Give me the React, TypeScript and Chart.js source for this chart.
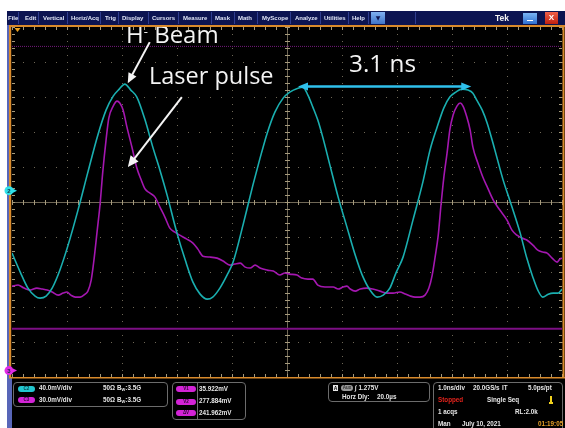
import React, { useEffect, useRef } from "react";
import { Chart, registerables } from "chart.js";

Chart.register(...registerables);

// ---- Channel 2 (H- beam, cyan) : time [ns] / amplitude [mV] ----
const ch2TimeNs = [-5.00,-4.85,-4.71,-4.58,-4.49,-4.38,-4.27,-4.13,-3.98,-3.80,-3.62,-3.44,-3.29,-3.16,-3.05,-2.95,-2.84,-2.73,-2.58,-2.44,-2.31,-2.18,-2.00,-1.85,-1.71,-1.58,-1.45,-1.35,-1.22,-1.09,-0.98,-0.80,-0.62,-0.49,-0.36,-0.22,-0.07,0.05,0.20,0.29,0.38,0.47,0.56,0.65,0.78,0.93,1.09,1.24,1.36,1.51,1.64,1.75,1.87,1.98,2.11,2.29,2.47,2.60,2.73,2.85,2.96,3.07,3.18,3.29,3.38,3.45,3.55,3.64,3.78,3.93,4.05,4.24,4.36,4.47,4.56,4.65,4.75,4.84,4.93,5.00];
const ch2mV = [-71.4,-93.1,-111.4,-120.6,-122.9,-120.6,-111.4,-90.9,-62.3,-22.3,21.1,63.4,92.0,108.0,116.0,121.7,114.9,106.9,80.6,49.7,23.4,-5.1,-48.6,-79.4,-104.6,-118.3,-124.0,-121.7,-111.4,-96.6,-81.7,-39.4,6.3,37.1,65.7,89.7,105.7,112.6,117.1,118.3,109.1,95.4,80.6,61.1,29.1,-7.4,-41.7,-73.7,-95.4,-113.7,-121.7,-119.4,-111.4,-94.3,-76.0,-33.7,9.7,46.3,72.6,94.3,106.9,112.6,116.0,114.9,111.4,103.4,92.0,77.1,46.3,12.0,-10.9,-48.6,-77.1,-98.9,-113.7,-121.7,-118.3,-117.1,-117.1,-112.6];

// ---- Channel 3 (laser pulse, magenta) : time [ns] / amplitude [mV] ----
const ch3TimeNs = [-5.00,-4.89,-4.78,-4.67,-4.55,-4.45,-4.36,-4.27,-4.16,-4.07,-4.00,-3.93,-3.85,-3.76,-3.67,-3.62,-3.56,-3.51,-3.45,-3.40,-3.35,-3.29,-3.24,-3.16,-3.09,-3.04,-2.98,-2.91,-2.82,-2.73,-2.65,-2.58,-2.49,-2.40,-2.31,-2.22,-2.13,-2.04,-1.95,-1.82,-1.71,-1.62,-1.53,-1.40,-1.27,-1.16,-1.04,-0.95,-0.85,-0.76,-0.67,-0.58,-0.49,-0.36,-0.25,-0.13,-0.04,0.05,0.18,0.27,0.38,0.47,0.56,0.69,0.84,0.93,1.02,1.09,1.15,1.24,1.33,1.45,1.56,1.69,1.82,1.93,2.05,2.15,2.24,2.33,2.42,2.51,2.58,2.64,2.69,2.75,2.80,2.85,2.91,2.96,3.02,3.09,3.15,3.20,3.27,3.33,3.38,3.47,3.56,3.65,3.75,3.87,4.00,4.09,4.18,4.27,4.36,4.47,4.56,4.65,4.73,4.82,4.91,4.96,5.00];
const ch3mV = [72.4,73.3,70.7,69.0,70.7,69.9,69.0,67.3,64.7,66.4,67.3,64.7,63.0,63.0,65.6,68.1,77.6,94.7,120.4,141.9,170.1,197.6,216.4,226.7,231.0,229.3,223.3,208.7,191.6,173.6,163.3,155.6,152.1,148.7,140.1,131.6,122.1,118.7,116.1,112.7,109.3,104.1,98.1,97.3,96.4,93.9,90.4,91.3,92.1,88.7,87.9,90.4,87.9,86.1,85.3,81.9,83.6,82.7,81.9,79.3,78.4,78.4,73.3,71.6,71.6,69.9,71.6,72.4,69.9,68.1,69.9,70.7,69.9,68.1,66.4,66.4,67.3,65.6,63.9,63.0,63.0,64.7,70.7,81.9,96.4,116.1,141.9,165.0,186.4,206.1,219.0,226.7,229.3,226.7,217.3,206.1,191.6,177.9,165.9,156.4,146.1,137.6,129.0,120.4,116.1,113.6,111.9,107.6,103.3,101.6,100.7,96.4,93.0,95.6,96.4];

// ---- Cursors (ch3 scale) ----
const cursorLevelsMV = [35.922, 277.884]; // V1, V2

// ---- Annotations ----
const periodArrowNs = [0.2, 3.35];
const periodArrowMV = 119;
const hBeamPeakIndex = 15;
const laserEdgeIndex = 29;
const triggerTimeNs = -4.9;
const timeDivisions = [-5, -4, -3, -2, -1, 0, 1, 2, 3, 4, 5];

const menuItems = ["File","Edit","Vertical","Horiz/Acq","Trig","Display","Cursors","Measure","Mask","Math","MyScope","Analyze","Utilities","Help"];
const menuLefts = [8,25,43,71,105,122,152,183,215,238,262,295,324,352];
const menuSeps = [18,38,67,100,118,148,178,211,234,257,290,320,348,368,415];

const W = 565, H = 428;

function drawArrow(ctx: CanvasRenderingContext2D, x0: number, y0: number, x1: number, y1: number, color: string, width: number, headLen: number, headW: number, both = false) {
  const ang = Math.atan2(y1 - y0, x1 - x0);
  const cos = Math.cos(ang), sin = Math.sin(ang);
  ctx.save();
  ctx.strokeStyle = color;
  ctx.fillStyle = color;
  ctx.lineWidth = width;
  ctx.lineCap = "butt";
  const sx = both ? x0 + cos * headLen * 0.8 : x0;
  const sy = both ? y0 + sin * headLen * 0.8 : y0;
  ctx.beginPath();
  ctx.moveTo(sx, sy);
  ctx.lineTo(x1 - cos * headLen * 0.8, y1 - sin * headLen * 0.8);
  ctx.stroke();
  const head = (tx: number, ty: number, c: number, s: number) => {
    ctx.beginPath();
    ctx.moveTo(tx, ty);
    ctx.lineTo(tx - c * headLen - s * headW / 2, ty - s * headLen + c * headW / 2);
    ctx.lineTo(tx - c * headLen + s * headW / 2, ty - s * headLen - c * headW / 2);
    ctx.closePath();
    ctx.fill();
  };
  head(x1, y1, cos, sin);
  if (both) head(x0, y0, -cos, -sin);
  ctx.restore();
}

const scopePlugin = {
  id: "scopeGraticule",
  beforeDraw(chart: any) {
    const ctx = chart.ctx as CanvasRenderingContext2D;
    ctx.save();
    ctx.fillStyle = "#000";
    ctx.fillRect(11, 25, W - 11, H - 25);
    ctx.fillStyle = "#5866b8";
    ctx.fillRect(7, 11, 2.5, 367);
    ctx.fillRect(7, 378, 5, 50);
    ctx.restore();
  },
  beforeDatasetsDraw(chart: any) {
    const ctx = chart.ctx as CanvasRenderingContext2D;
    const a = chart.chartArea;
    const xs = chart.scales.x;
    const ys = chart.scales.y;
    const w = a.right - a.left, h = a.bottom - a.top;
    const dx = w / 50, dy = h / 50;
    ctx.save();
    ctx.fillStyle = "#6e6756";
    timeDivisions.forEach((t) => {
      if (t === 0 || t === -5 || t === 5) return;
      const px = Math.round(xs.getPixelForValue(t));
      for (let j = 0; j <= 50; j++) ctx.fillRect(px, Math.round(a.top + j * dy), 1, 1);
    });
    for (let k = 1; k < 10; k++) {
      if (k === 5) continue;
      const py = Math.round(ys.getPixelForValue(ys.min + k * (ys.max - ys.min) / 10));
      for (let j = 0; j <= 50; j++) ctx.fillRect(Math.round(a.left + j * dx), py, 1, 1);
    }
    const cx = Math.round(xs.getPixelForValue(0));
    const cy = Math.round(ys.getPixelForValue((ys.min + ys.max) / 2));
    ctx.fillStyle = "#6f6756";
    ctx.fillRect(a.left, cy, w, 1);
    ctx.fillRect(cx, a.top, 1, h);
    ctx.fillStyle = "#a59a7c";
    for (let j = 0; j <= 50; j++) {
      const x = Math.round(a.left + j * dx);
      ctx.fillRect(x, cy - 2, 1, 5);
      ctx.fillRect(x, a.top, 1, 3);
      ctx.fillRect(x, a.bottom - 3, 1, 3);
      const y = Math.round(a.top + j * dy);
      ctx.fillRect(cx - 2, y, 5, 1);
      ctx.fillRect(a.left, y, 3, 1);
      ctx.fillRect(a.right - 3, y, 3, 1);
    }
    ctx.fillStyle = "#d98a2b";
    ctx.fillRect(9, 25, 2.2, a.bottom - 25 + 1);
    ctx.fillRect(9, 25, W - 9, 2);
    ctx.fillRect(9, a.bottom, W - 9, 1.5);
    ctx.fillRect(a.right + 0.5, 25, 2, a.bottom - 25 + 1);
    ctx.restore();
  },
  afterDatasetsDraw(chart: any) {
    const ctx = chart.ctx as CanvasRenderingContext2D;
    const xs = chart.scales.x, ys = chart.scales.y, y2 = chart.scales.y2;
    ctx.save();
    const marker = (y: number, color: string, label: string) => {
      ctx.fillStyle = color;
      ctx.beginPath();
      ctx.arc(9, y, 4.5, 0, Math.PI * 2);
      ctx.fill();
      ctx.beginPath();
      ctx.moveTo(13, y - 2);
      ctx.lineTo(17, y);
      ctx.lineTo(13, y + 2);
      ctx.closePath();
      ctx.fill();
      ctx.fillStyle = "#103040";
      ctx.font = "bold 6px 'Liberation Sans'";
      ctx.textAlign = "center";
      ctx.textBaseline = "middle";
      ctx.fillText(label, 9, y + 0.5);
    };
    marker(ys.getPixelForValue(0), "#2fe0ea", "2");
    marker(y2.getPixelForValue(0), "#e22ae6", "3");
    const tx = xs.getPixelForValue(triggerTimeNs);
    ctx.fillStyle = "#eda321";
    ctx.beginPath();
    ctx.moveTo(tx - 3, 28);
    ctx.lineTo(tx + 3, 28);
    ctx.lineTo(tx, 32);
    ctx.closePath();
    ctx.fill();
    ctx.restore();

    const pkx = xs.getPixelForValue(ch2TimeNs[hBeamPeakIndex]);
    const pky = ys.getPixelForValue(ch2mV[hBeamPeakIndex]);
    drawArrow(ctx, pkx + 25, pky - 42, pkx + 3, pky - 1, "#f4f4f4", 2, 10, 9);
    const lx = xs.getPixelForValue(ch3TimeNs[laserEdgeIndex]);
    const ly = y2.getPixelForValue(ch3mV[laserEdgeIndex]);
    drawArrow(ctx, lx + 45, ly - 71, lx - 9, ly - 1, "#f4f4f4", 2, 11, 10);
    const ax0 = xs.getPixelForValue(periodArrowNs[0]);
    const ax1 = xs.getPixelForValue(periodArrowNs[1]);
    const ay = ys.getPixelForValue(periodArrowMV);
    drawArrow(ctx, ax0, ay, ax1, ay, "#2fc0ec", 2.5, 10, 8, true);
  },
};

const txt = (x: number, y: number, s: React.ReactNode, opts: any = {}) => (
  <span
    style={{
      position: "absolute",
      left: x,
      top: y - (opts.size ?? 6.3) * 0.5,
      fontFamily: "'Liberation Sans', Arial, sans-serif",
      fontWeight: opts.weight ?? "bold",
      fontSize: opts.size ?? 6.3,
      lineHeight: 1,
      color: opts.color ?? "#e6e6e6",
      whiteSpace: "nowrap",
    }}
  >
    {s}
  </span>
);

const pill = (x: number, y: number, w: number, bg: string, label: string, fg = "#2a0a30") => (
  <div
    style={{
      position: "absolute",
      left: x,
      top: y - 3,
      width: w,
      height: 6,
      borderRadius: 3,
      background: bg,
      color: fg,
      fontFamily: "'Liberation Sans', Arial, sans-serif",
      fontWeight: "bold",
      fontSize: 4.5,
      lineHeight: "6px",
      textAlign: "center",
    }}
  >
    {label}
  </div>
);

const box = (x: number, y: number, w: number, h: number) => (
  <div
    style={{
      position: "absolute",
      left: x,
      top: y,
      width: w,
      height: h,
      border: "1px solid #6c6c6c",
      borderRadius: 4,
      boxSizing: "border-box",
    }}
  />
);

const bw = (
  <>
    B<sub style={{ fontSize: 4, verticalAlign: "baseline", position: "relative", top: 1 }}>W</sub>:3.5G
  </>
);

const annoFont = "'Open Sans', Lato, sans-serif";

export default function App() {
  const ref = useRef<HTMLCanvasElement>(null);

  useEffect(() => {
    const chart = new Chart(ref.current as HTMLCanvasElement, {
      type: "line",
      data: {
        datasets: [
          {
            label: "C2",
            data: ch2TimeNs.map((t, i) => ({ x: t, y: ch2mV[i] })),
            yAxisID: "y",
            borderColor: "#1aafb0",
            borderWidth: 1.6,
            pointRadius: 0,
            cubicInterpolationMode: "monotone",
          },
          {
            label: "C3",
            data: ch3TimeNs.map((t, i) => ({ x: t, y: ch3mV[i] })),
            yAxisID: "y2",
            borderColor: "#a417b0",
            borderWidth: 1.6,
            pointRadius: 0,
            cubicInterpolationMode: "monotone",
          },
          {
            label: "V1",
            data: [{ x: -5, y: cursorLevelsMV[0] }, { x: 5, y: cursorLevelsMV[0] }],
            yAxisID: "y2",
            borderColor: "#7c0f84",
            borderWidth: 2,
            pointRadius: 0,
          },
          {
            label: "V2",
            data: [{ x: -5, y: cursorLevelsMV[1] }, { x: 5, y: cursorLevelsMV[1] }],
            yAxisID: "y2",
            borderColor: "#741a7c",
            borderWidth: 1,
            borderDash: [1, 1],
            pointRadius: 0,
          },
        ],
      } as any,
      options: {
        responsive: false,
        animation: false,
        devicePixelRatio: 1,
        layout: { padding: { left: 12, top: 27, right: 3, bottom: 51 } },
        plugins: { legend: { display: false }, tooltip: { enabled: false } },
        scales: {
          x: { type: "linear", min: -5, max: 5, display: false },
          y: { type: "linear", min: -213, max: 187, display: false },
          y2: { type: "linear", min: -5.5, max: 294.5, display: false },
        },
      } as any,
      plugins: [scopePlugin],
    });
    return () => chart.destroy();
  }, []);

  return (
    <div style={{ position: "fixed", left: 0, top: 0, width: W, height: H, overflow: "hidden", background: "#fff" }}>
      <canvas ref={ref} width={W} height={H} style={{ position: "absolute", left: 0, top: 0, width: W, height: H }} />

      {/* annotations (beneath the menu bar, as in the original) */}
      <div style={{ position: "absolute", left: 126, top: 21.5, fontFamily: annoFont, fontSize: 24, lineHeight: 1, color: "#f4f4f4", whiteSpace: "nowrap" }}>
        H<span style={{ position: "relative", top: -7, fontSize: 13 }}>-</span> Beam
      </div>
      <div style={{ position: "absolute", left: 149, top: 64, fontFamily: annoFont, fontSize: 23.5, lineHeight: 1, color: "#f4f4f4", whiteSpace: "nowrap" }}>
        Laser pulse
      </div>
      <div style={{ position: "absolute", left: 349, top: 50.5, fontFamily: annoFont, fontSize: 24.3, lineHeight: 1, color: "#f4f4f4", whiteSpace: "nowrap" }}>
        3.1 ns
      </div>

      {/* menu bar */}
      <div style={{ position: "absolute", left: 7, top: 11, width: W - 7, height: 14, background: "#0c1451" }} />
      <div style={{ position: "absolute", left: 9, top: 25, width: W - 9, height: 2, background: "#d98a2b" }} />
      {menuSeps.map((x, i) => (
        <div key={"s" + i} style={{ position: "absolute", left: x, top: 12, width: 1, height: 12, background: "#2f3d8f" }} />
      ))}
      {menuItems.map((m, i) => (
        <span
          key={m}
          style={{
            position: "absolute",
            left: menuLefts[i],
            top: 15,
            fontFamily: "'Liberation Sans', Arial, sans-serif",
            fontSize: 6,
            fontWeight: "bold",
            lineHeight: 1,
            color: "#dfe4f6",
            whiteSpace: "nowrap",
          }}
        >
          {m}
        </span>
      ))}
      <div style={{ position: "absolute", left: 371, top: 12, width: 14, height: 12, background: "linear-gradient(#7fb0f0,#3f74c8)", color: "#0c1451", fontSize: 6, lineHeight: "12px", textAlign: "center", fontFamily: "'DejaVu Sans'" }}>▼</div>
      <span style={{ position: "absolute", left: 495, top: 13.5, fontFamily: "'Liberation Sans', Arial, sans-serif", fontWeight: "bold", fontSize: 8.5, lineHeight: 1, color: "#f2f2f2" }}>Tek</span>
      <div style={{ position: "absolute", left: 523, top: 12.5, width: 14, height: 11, background: "linear-gradient(#7ab4f4,#2f6fd0)" }}>
        <div style={{ position: "absolute", left: 4, top: 7, width: 6, height: 1.5, background: "#fff" }} />
      </div>
      <div style={{ position: "absolute", left: 545, top: 12, width: 13, height: 12, background: "linear-gradient(#f0604a,#c0200e)", color: "#fff", fontFamily: "'Liberation Sans', Arial, sans-serif", fontWeight: "bold", fontSize: 8, lineHeight: "12px", textAlign: "center" }}>X</div>

      {/* bottom panel: channel box */}
      {box(13, 382, 155, 25)}
      {pill(18, 388.5, 17, "#22c6cf", "C2", "#0a4650")}
      {txt(39, 388.5, "40.0mV/div")}
      {txt(103, 388.5, "50Ω")}
      {txt(117, 388.5, bw)}
      {pill(18, 400, 17, "#d323d6", "C3")}
      {txt(39, 400, "30.0mV/div")}
      {txt(103, 400, "50Ω")}
      {txt(117, 400, bw)}

      {/* cursor readout box */}
      {box(172, 382, 74, 38)}
      <div style={{ position: "absolute", left: 197, top: 383, width: 1, height: 36, background: "#6c6c6c" }} />
      {pill(176, 389, 20, "#d323d6", "V1")}
      {pill(176, 401.5, 20, "#d323d6", "V2")}
      {pill(176, 413, 20, "#d323d6", "ΔV")}
      {txt(199, 389, "35.922mV")}
      {txt(199, 401.5, "277.884mV")}
      {txt(199, 413, "241.962mV")}

      {/* trigger box */}
      {box(328, 382, 102, 20)}
      <div style={{ position: "absolute", left: 333, top: 385, width: 5, height: 6, background: "#e8e8e8", color: "#000", fontFamily: "'Liberation Sans'", fontWeight: "bold", fontSize: 5, lineHeight: "6px", textAlign: "center" }}>A</div>
      {pill(341, 388, 12, "#9a9a9a", "Aux", "#303030")}
      {txt(355, 388, "∫ 1.275V")}
      {txt(342, 397.5, "Horz Dly:")}
      {txt(377, 397.5, "20.0µs")}

      {/* acquisition box */}
      {box(433, 382, 130, 60)}
      {txt(438, 388, "1.0ns/div")}
      {txt(473, 388, "20.0GS/s")}
      {txt(502, 388, "IT")}
      {txt(528, 388, "5.0ps/pt")}
      {txt(438, 400, "Stopped", { color: "#e3231c" })}
      {txt(487, 400, "Single Seq")}
      <div style={{ position: "absolute", left: 550, top: 396, width: 2, height: 6, background: "#f2d21e" }} />
      <div style={{ position: "absolute", left: 549, top: 402, width: 4, height: 2, background: "#f2d21e" }} />
      {txt(438, 412, "1 acqs")}
      {txt(515, 412, "RL:2.0k")}
      {txt(438, 424, "Man")}
      {txt(462, 424, "July 10, 2021")}
      {txt(538, 424, "01:19:05", { color: "#e9a127" })}
    </div>
  );
}
